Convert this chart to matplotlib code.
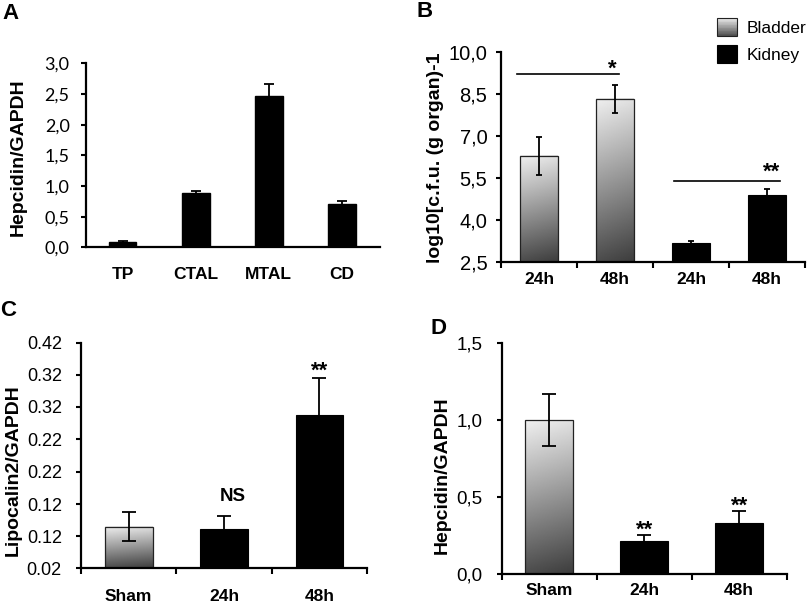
import numpy as np
import matplotlib
matplotlib.use("Agg")
import matplotlib.pyplot as plt
from matplotlib.patches import Rectangle
from matplotlib.legend_handler import HandlerBase

plt.rcParams['font.family'] = ['Liberation Sans', 'DejaVu Sans']

# ---------------- data ----------------
a_cats = ['TP', 'CTAL', 'MTAL', 'CD']
a_vals = [0.08, 0.89, 2.46, 0.71]
a_err = [0.02, 0.02, 0.20, 0.04]
a_ticks = [0.0, 0.5, 1.0, 1.5, 2.0, 2.5, 3.0]
a_ticklabels = ['0,0', '0,5', '1,0', '1,5', '2,0', '2,5', '3,0']

b_cats = ['24h', '48h', '24h', '48h']
b_groups = ['Bladder', 'Bladder', 'Kidney', 'Kidney']
b_vals = [6.30, 8.33, 3.18, 4.90]
b_err = [0.68, 0.51, 0.09, 0.23]
b_ticks = [2.5, 4.0, 5.5, 7.0, 8.5, 10.0]
b_ticklabels = ['2,5', '4,0', '5,5', '7,0', '8,5', '10,0']
b_sig_levels = [9.22, 5.40]
b_sig_text = ['*', '**']

c_cats = ['Sham', '24h', '48h']
c_groups = ['Sham', 'Infected', 'Infected']
c_vals = [0.094, 0.090, 0.292]
c_err = [0.026, 0.023, 0.065]
c_ticks = [0.02, 0.077, 0.134, 0.191, 0.249, 0.306, 0.363, 0.42]
c_ticklabels = ['0.02', '0.12', '0.12', '0.22', '0.22', '0.32', '0.32', '0.42']
c_marks = ['', 'NS', '**']

d_cats = ['Sham', '24h', '48h']
d_groups = ['Sham', 'Infected', 'Infected']
d_vals = [1.00, 0.217, 0.334]
d_err = [0.17, 0.038, 0.074]
d_ticks = [0.0, 0.5, 1.0, 1.5]
d_ticklabels = ['0,0', '0,5', '1,0', '1,5']
d_marks = ['', '**', '**']

W, H = 807, 607
fig = plt.figure(figsize=(W / 100, H / 100), dpi=100)
STAR_SIZE = 16


def axes_px(left, right, top, bottom):
    return fig.add_axes([left / W, 1 - bottom / H, (right - left) / W, (bottom - top) / H])


def gradient_fill(ax, rect):
    x0, y0 = rect.get_xy()
    w, h = rect.get_width(), rect.get_height()
    yy, xx = np.mgrid[0:1:120j, 0:1:30j]
    g = 0.30 + 0.64 * yy - 0.06 * xx
    ax.imshow(g, extent=[x0, x0 + w, y0, y0 + h], origin='lower', cmap='gray',
              vmin=0, vmax=1, aspect='auto', zorder=1.5, interpolation='bilinear')


class GradHandler(HandlerBase):
    def create_artists(self, legend, orig_handle, xdescent, ydescent, width, height, fontsize, trans):
        arts = []
        n = 24
        for i in range(n):
            t = (i + 0.5) / n
            g = 0.30 + 0.64 * t
            arts.append(Rectangle((-xdescent, -ydescent + i * height / n), width, height / n + 0.01,
                                  facecolor=str(g), edgecolor='none', transform=trans))
        arts.append(Rectangle((-xdescent, -ydescent), width, height, facecolor='none',
                              edgecolor='#222222', lw=0.8, transform=trans))
        return arts


class SolidHandler(HandlerBase):
    def create_artists(self, legend, orig_handle, xdescent, ydescent, width, height, fontsize, trans):
        return [Rectangle((-xdescent, -ydescent), width, height, facecolor='black',
                          edgecolor='black', lw=0.8, transform=trans)]


def style_axes(ax, ylim, ticks, ticklabels, tick_font, tick_size, ypad):
    for s in ['top', 'right']:
        ax.spines[s].set_visible(False)
    for s in ['left', 'bottom']:
        ax.spines[s].set_linewidth(1.6)
    ax.set_ylim(*ylim)
    ax.set_yticks(ticks)
    ax.set_yticklabels(ticklabels, family=tick_font, fontsize=tick_size)
    ax.tick_params(axis='y', direction='out', length=3.8, width=1.5, pad=ypad)


def cat_xaxis(ax, n, cats, pad):
    ax.set_xlim(-0.5, n - 0.5)
    ax.set_xticks(np.arange(n + 1) - 0.5)
    ax.set_xticklabels([''] * (n + 1))
    ax.tick_params(axis='x', which='major', direction='out', length=4.3, width=1.5)
    ax.set_xticks(np.arange(n), minor=True)
    ax.set_xticklabels(cats, minor=True, fontweight='bold', fontsize=12.5)
    ax.tick_params(axis='x', which='minor', length=0, pad=pad)


def draw_bars(ax, vals, err, kinds, base, capsize):
    x = np.arange(len(vals))
    heights = [v - base for v in vals]
    for xi, hv, k in zip(x, heights, kinds):
        if k == 'grad':
            r = ax.bar(xi, hv, 0.5, bottom=base, facecolor='none', edgecolor='#222222',
                       linewidth=0.9, zorder=2)[0]
            gradient_fill(ax, r)
        else:
            ax.bar(xi, hv, 0.5, bottom=base, color='black',
                   edgecolor='black', linewidth=0.8, zorder=2)
    ax.errorbar(x, vals, yerr=err, fmt='none', ecolor='black', elinewidth=1.3,
                capsize=capsize, capthick=1.3, zorder=3)
    return x


# ---------------- Panel A ----------------
axA = axes_px(86, 380, 63.3, 247.3)
xa = np.arange(len(a_vals))
axA.bar(xa, a_vals, 0.38, color='black', edgecolor='black', zorder=2)
axA.errorbar(xa, a_vals, yerr=a_err, fmt='none', ecolor='black', elinewidth=1.3,
             capsize=3.6, capthick=1.3, zorder=3)
style_axes(axA, (0, 3.0), a_ticks, a_ticklabels, 'Lato', 13, 8)
axA.set_xlim(-0.5, len(a_cats) - 0.48)
axA.set_xticks(xa)
axA.set_xticklabels(a_cats, fontweight='bold', fontsize=12.5)
axA.tick_params(axis='x', length=0, pad=14)
axA.set_ylabel('Hepcidin/GAPDH', fontweight='bold', fontsize=14)
axA.yaxis.set_label_coords(-0.20, 0.49)

# ---------------- Panel B ----------------
axB = axes_px(501, 805, 52.3, 262.3)
b_kinds = ['grad' if g == 'Bladder' else 'solid' for g in b_groups]
xb = draw_bars(axB, b_vals, b_err, b_kinds, b_ticks[0], 2.2)
style_axes(axB, (b_ticks[0], b_ticks[-1]), b_ticks, b_ticklabels, 'Liberation Sans', 14.5, 6)
cat_xaxis(axB, len(b_cats), b_cats, 6.8)
axB.set_ylabel('log10[c.f.u. (g organ)-1', fontweight='bold', fontsize=14)
axB.yaxis.set_label_coords(-0.187, 0.5)
# significance lines
spans = [(xb[0] - 0.29, xb[1] + 0.05), (xb[2] - 0.22, xb[3] + 0.17)]
star_x = [xb[1] - 0.03, xb[3] + 0.06]
star_off = [-0.5, 2.2]
for (x0, x1), lev, txt, sx, off in zip(spans, b_sig_levels, b_sig_text, star_x, star_off):
    axB.plot([x0, x1], [lev, lev], color='black', lw=1.2, clip_on=False, zorder=4)
    axB.annotate(txt, xy=(sx, lev), xytext=(0, off), textcoords='offset points',
                 ha='center', va='baseline', fontweight='bold', fontsize=STAR_SIZE)
h1, h2 = object(), object()
leg = fig.legend([h1, h2], ['Bladder', 'Kidney'],
                 handler_map={h1: GradHandler(), h2: SolidHandler()},
                 loc='upper left', bbox_to_anchor=(717 / W, 1 - 18 / H), frameon=False,
                 fontsize=12.5, handlelength=1.15, handleheight=1.2, labelspacing=0.55,
                 handletextpad=0.55, borderpad=0, borderaxespad=0)

# ---------------- Panel C ----------------
axC = axes_px(81, 367, 342.7, 568.3)
c_kinds = ['grad' if g == 'Sham' else 'solid' for g in c_groups]
xc = draw_bars(axC, c_vals, c_err, c_kinds, c_ticks[0], 5)
style_axes(axC, (c_ticks[0], c_ticks[-1]), c_ticks, c_ticklabels, 'Liberation Sans', 13, 10)
cat_xaxis(axC, len(c_cats), c_cats, 15)
axC.set_ylabel('Lipocalin2/GAPDH', fontweight='bold', fontsize=14)
axC.yaxis.set_label_coords(-0.206, 0.436)
for xi, v, e, m in zip(xc, c_vals, c_err, c_marks):
    if m == 'NS':
        axC.annotate(m, xy=(xi + 0.09, v + e), xytext=(0, 10.5), textcoords='offset points',
                     ha='center', va='baseline', fontweight='bold', fontsize=13.5)
    elif m:
        axC.annotate(m, xy=(xi, v + e), xytext=(0, 1.0), textcoords='offset points',
                     ha='center', va='baseline', fontweight='bold', fontsize=STAR_SIZE)

# ---------------- Panel D ----------------
axD = axes_px(501.7, 786.7, 343.3, 574)
d_kinds = ['grad' if g == 'Sham' else 'solid' for g in d_groups]
xd = draw_bars(axD, d_vals, d_err, d_kinds, d_ticks[0], 5)
style_axes(axD, (d_ticks[0], d_ticks[-1]), d_ticks, d_ticklabels, 'Liberation Sans', 13.5, 10)
cat_xaxis(axD, len(d_cats), d_cats, 6.5)
axD.set_ylabel('Hepcidin/GAPDH', fontweight='bold', fontsize=14)
axD.yaxis.set_label_coords(-0.178, 0.43)
for xi, v, e, m in zip(xd, d_vals, d_err, d_marks):
    if m:
        axD.annotate(m, xy=(xi, v + e), xytext=(0, -0.5), textcoords='offset points',
                     ha='center', va='baseline', fontweight='bold', fontsize=STAR_SIZE)

# panel letters
for lab, px, py in [('A', 2, 3), ('B', 417, 1), ('C', 0, 300), ('D', 431, 318)]:
    fig.text(px / W, 1 - py / H, lab, fontweight='bold', fontsize=16, ha='left', va='top')

fig.savefig('out.png', dpi=100)
